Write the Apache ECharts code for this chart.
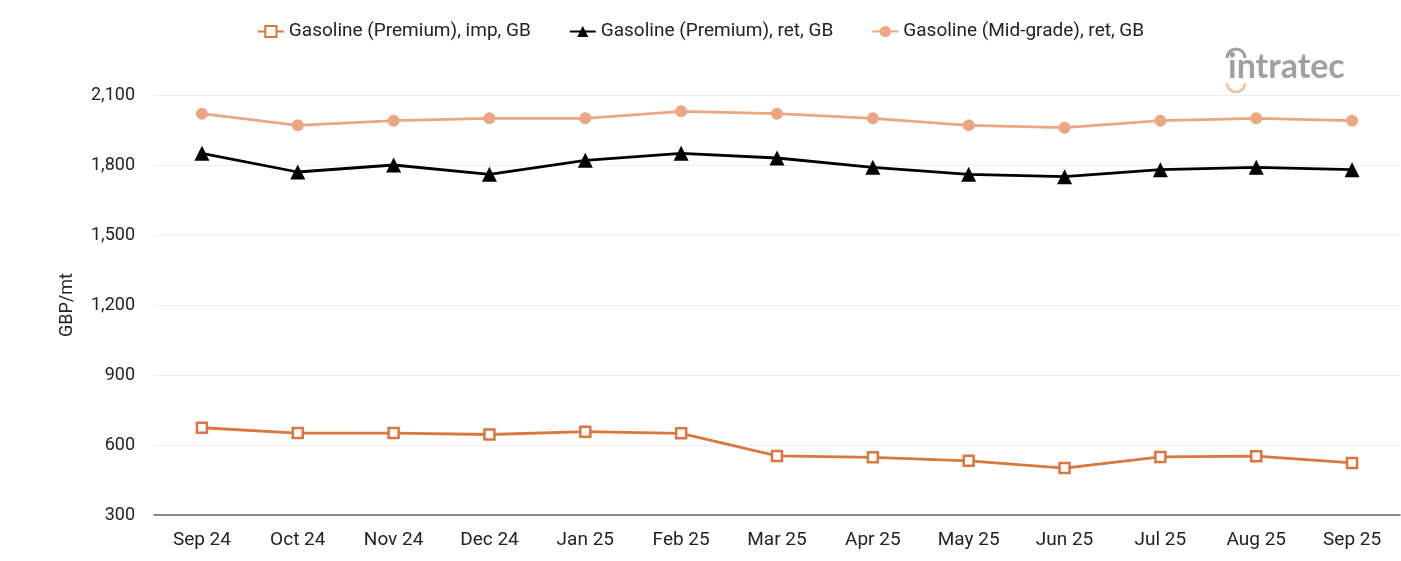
<!DOCTYPE html>
<html><head><meta charset="utf-8">
<script src="https://cdn.jsdelivr.net/npm/echarts@6/dist/echarts.min.js"></script>
<style>html,body{margin:0;padding:0;background:#fff}#c{width:1401px;height:561px}</style>
</head><body><div id="c"></div>
<script>
const categories = ['Sep 24','Oct 24','Nov 24','Dec 24','Jan 25','Feb 25','Mar 25','Apr 25','May 25','Jun 25','Jul 25','Aug 25','Sep 25'];
const premiumImp = [674, 651, 651, 645, 657, 650, 553, 547, 532, 501, 549, 552, 523];
const premiumRet = [1850, 1770, 1800, 1760, 1820, 1850, 1830, 1790, 1760, 1750, 1780, 1790, 1780];
const midRet = [2020, 1970, 1990, 2000, 2000, 2030, 2020, 2000, 1970, 1960, 1990, 2000, 1990];
const yTicks = [300, 600, 900, 1200, 1500, 1800, 2100];

const chart = echarts.init(document.getElementById('c'));
const font = 'Roboto';
chart.setOption({
  animation: false,
  textStyle: {fontFamily: font},
  legend: {
    top: 17, left: 'center', itemGap: 38, itemWidth: 26, itemHeight: 14,
    textStyle: {fontSize: 19, color: '#222', fontFamily: font},
    data: ['Gasoline (Premium), imp, GB','Gasoline (Premium), ret, GB','Gasoline (Mid-grade), ret, GB']
  },
  grid: {left: 154, right: 1, top: 95, bottom: 46},
  xAxis: {
    type: 'category', data: categories, boundaryGap: true,
    axisLine: {lineStyle: {color: '#666', width: 1.5}},
    axisTick: {show: false},
    axisLabel: {fontSize: 19, color: '#222', margin: 16, fontFamily: font}
  },
  yAxis: {
    type: 'value', min: yTicks[0], max: yTicks[yTicks.length-1], interval: 300,
    name: 'GBP/mt', nameLocation: 'middle', nameGap: 78, nameRotate: 90,
    nameTextStyle: {fontSize: 18, color: '#222', fontFamily: font},
    axisLine: {show: false}, axisTick: {show: false},
    splitLine: {lineStyle: {color: '#eeeeee'}},
    axisLabel: {fontSize: 18, color: '#222', margin: 19, fontFamily: font,
      formatter: v => v.toLocaleString('en-US')}
  },
  graphic: [
    {type: 'text', left: 1228, top: 50, style: {text: 'intratec', fontSize: 34, fontFamily: 'Lato', fontWeight: 'bold', fill: '#a0a0a0'}},
    {type: 'arc', shape: {cx: 1236, cy: 58, r: 9, startAngle: Math.PI, endAngle: 2*Math.PI}, style: {stroke: '#a0a0a0', lineWidth: 3, fill: null}},
    {type: 'arc', shape: {cx: 1236, cy: 83, r: 9, startAngle: 0, endAngle: Math.PI}, style: {stroke: '#ecc8a8', lineWidth: 3, fill: null}}
  ],
  series: [
    {name: 'Gasoline (Premium), imp, GB', type: 'line', data: premiumImp,
     symbol: 'rect', symbolSize: 10,
     itemStyle: {color: '#fff', borderColor: '#D9773E', borderWidth: 2.5},
     lineStyle: {color: '#D9773E', width: 2.8}},
    {name: 'Gasoline (Premium), ret, GB', type: 'line', data: premiumRet,
     symbol: 'triangle', symbolSize: 15,
     itemStyle: {color: '#000'}, lineStyle: {color: '#000', width: 2.8}},
    {name: 'Gasoline (Mid-grade), ret, GB', type: 'line', data: midRet,
     symbol: 'circle', symbolSize: 12,
     itemStyle: {color: '#EBA782'}, lineStyle: {color: '#EBA782', width: 2.8}}
  ]
});
</script></body></html>
